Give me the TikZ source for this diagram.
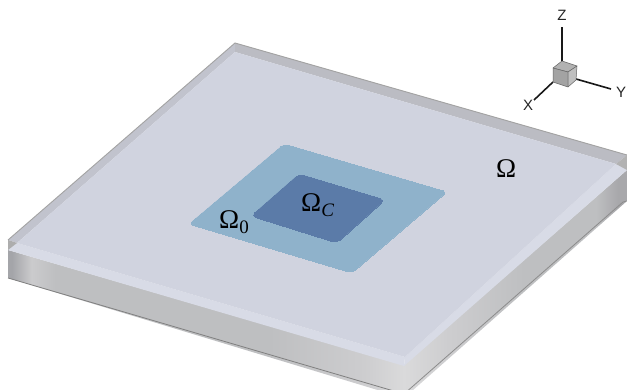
\documentclass[tikz,border=0pt]{standalone}
\usepackage{fontspec}
\setmainfont{Liberation Serif}
\newfontfamily\axisfont{Liberation Sans}
\usetikzlibrary{calc}
\definecolor{facecol}{HTML}{D0D3DF}
\definecolor{bandback}{HTML}{BBBCC3}
\definecolor{bandleft}{HTML}{C1C3CD}
\definecolor{bandfront}{HTML}{D8DBE6}
\definecolor{outercol}{HTML}{8FB2CB}
\definecolor{innercol}{HTML}{5B7BA8}
\definecolor{cubeside}{HTML}{A3A3A3}
\definecolor{sa}{HTML}{A4A5A9}
\definecolor{sb}{HTML}{CBCBCD}
\definecolor{sc}{HTML}{BEBFC1}
\definecolor{sd}{HTML}{CDCDCF}
\definecolor{se}{HTML}{DADADB}
\definecolor{sf}{HTML}{A8A8AB}
\pgfdeclarehorizontalshading{frontside}{100bp}{
 color(0bp)=(sa); color(25.5bp)=(sa); color(28bp)=(sb); color(31bp)=(sc); color(58bp)=(sc); color(70bp)=(sd); color(75bp)=(se); color(100bp)=(se)}
\pgfdeclarehorizontalshading{rightside}{100bp}{
 color(0bp)=(se); color(25bp)=(se); color(35bp)=(sd); color(52bp)=(sc); color(68bp)=(sc); color(73bp)=(sf); color(100bp)=(sf)}
\tikzset{
 mathlabel/.style={inner sep=0pt,font=\fontsize{27}{27}\selectfont,text=black},
 axislabel/.style={inner sep=0pt,font=\axisfont\fontsize{15}{15}\selectfont,text=black!85},
 axisline/.style={line width=1.6pt,black!90},
 cubeedge/.style={draw=black!60,line width=0.5pt,line join=round}
}
\begin{document}
\begin{tikzpicture}[x=1pt,y=-1pt]
\useasboundingbox (0,0) rectangle (627,390);
\clip (0,0) rectangle (627,390);
\fill[white] (0,0) rectangle (627,390);
% sides
\shade[shading=frontside] (8,250) -- (404,365) -- (404,398) -- (8,278) -- cycle;
\shade[shading=rightside] (404,365) -- (627,170) -- (627,201) -- (404,398) -- cycle;
\draw[black!50,line width=0.8pt] (8,278) -- (404,394);
\draw[black!45,line width=0.8pt] (404,394) -- (623,202) -- (627,201);
% top face bands
\fill[bandleft] (235,43) -- (8,240) -- (17,243) -- (235,52) -- cycle;
\fill[bandback] (235,43) -- (627,155) -- (616,164) -- (235,52) -- cycle;
\fill[bandfront] (8,240) -- (17,243) -- (405,357) -- (404,366) -- (8,250) -- cycle;
\fill[bandfront] (405,357) -- (616,164) -- (627,158) -- (627,170) -- (404,366) -- cycle;
\fill[black!32] (8,240) -- (17,243) -- (8,250) -- cycle;
\fill[black!30] (616,164) -- (627,155) -- (627,170) -- cycle;
\draw[black!36,line width=0.9pt] (8,240) -- (235,43) -- (627,155);
\fill[facecol] (235,52) -- (616,164) -- (405,357) -- (17,243) -- cycle;
% regions
\filldraw[outercol,rounded corners=4pt,line width=0pt] (284,144) -- (447,192) -- (352,273) -- (189,224) -- cycle;
\filldraw[innercol,rounded corners=5pt,line width=0pt] (299,174) -- (385,200) -- (337,243) -- (251,216) -- cycle;
% labels
\node[mathlabel,anchor=base west] (omegazero) at (219,229) {Ω\raisebox{-5pt}{\fontsize{19}{19}\selectfont 0}};
\node[mathlabel,anchor=base west] (omegac) at (301,212) {Ω\raisebox{-5pt}{\fontsize{19}{19}\selectfont\itshape C}};
\node[mathlabel,anchor=base west] (omega) at (496,178) {Ω};
% axes triad
\coordinate (ztip) at (562,27);
\coordinate (zbase) at (562,62);
\coordinate (ytip) at (611,89);
\coordinate (ybase) at (576,79);
\coordinate (xtip) at (534,100);
\coordinate (xbase) at (553,82);
\draw[axisline] (zbase) -- (ztip);
\draw[axisline] (ybase) -- (ytip);
\draw[axisline] (xbase) -- (xtip);
\filldraw[fill=black!30,cubeedge] (553,68) -- (562,61) -- (577,66) -- (568,72) -- cycle;
\filldraw[fill=cubeside,cubeedge] (553,68) -- (568,72) -- (568,87) -- (553,82) -- cycle;
\filldraw[fill=black!25,cubeedge] (568,72) -- (577,66) -- (576,80) -- (568,87) -- cycle;
\node[axislabel] (zlabel) at (562,15) {Z};
\node[axislabel] (ylabel) at (621,92) {Y};
\node[axislabel] (xlabel) at (528,105) {X};
\end{tikzpicture}
\end{document}
